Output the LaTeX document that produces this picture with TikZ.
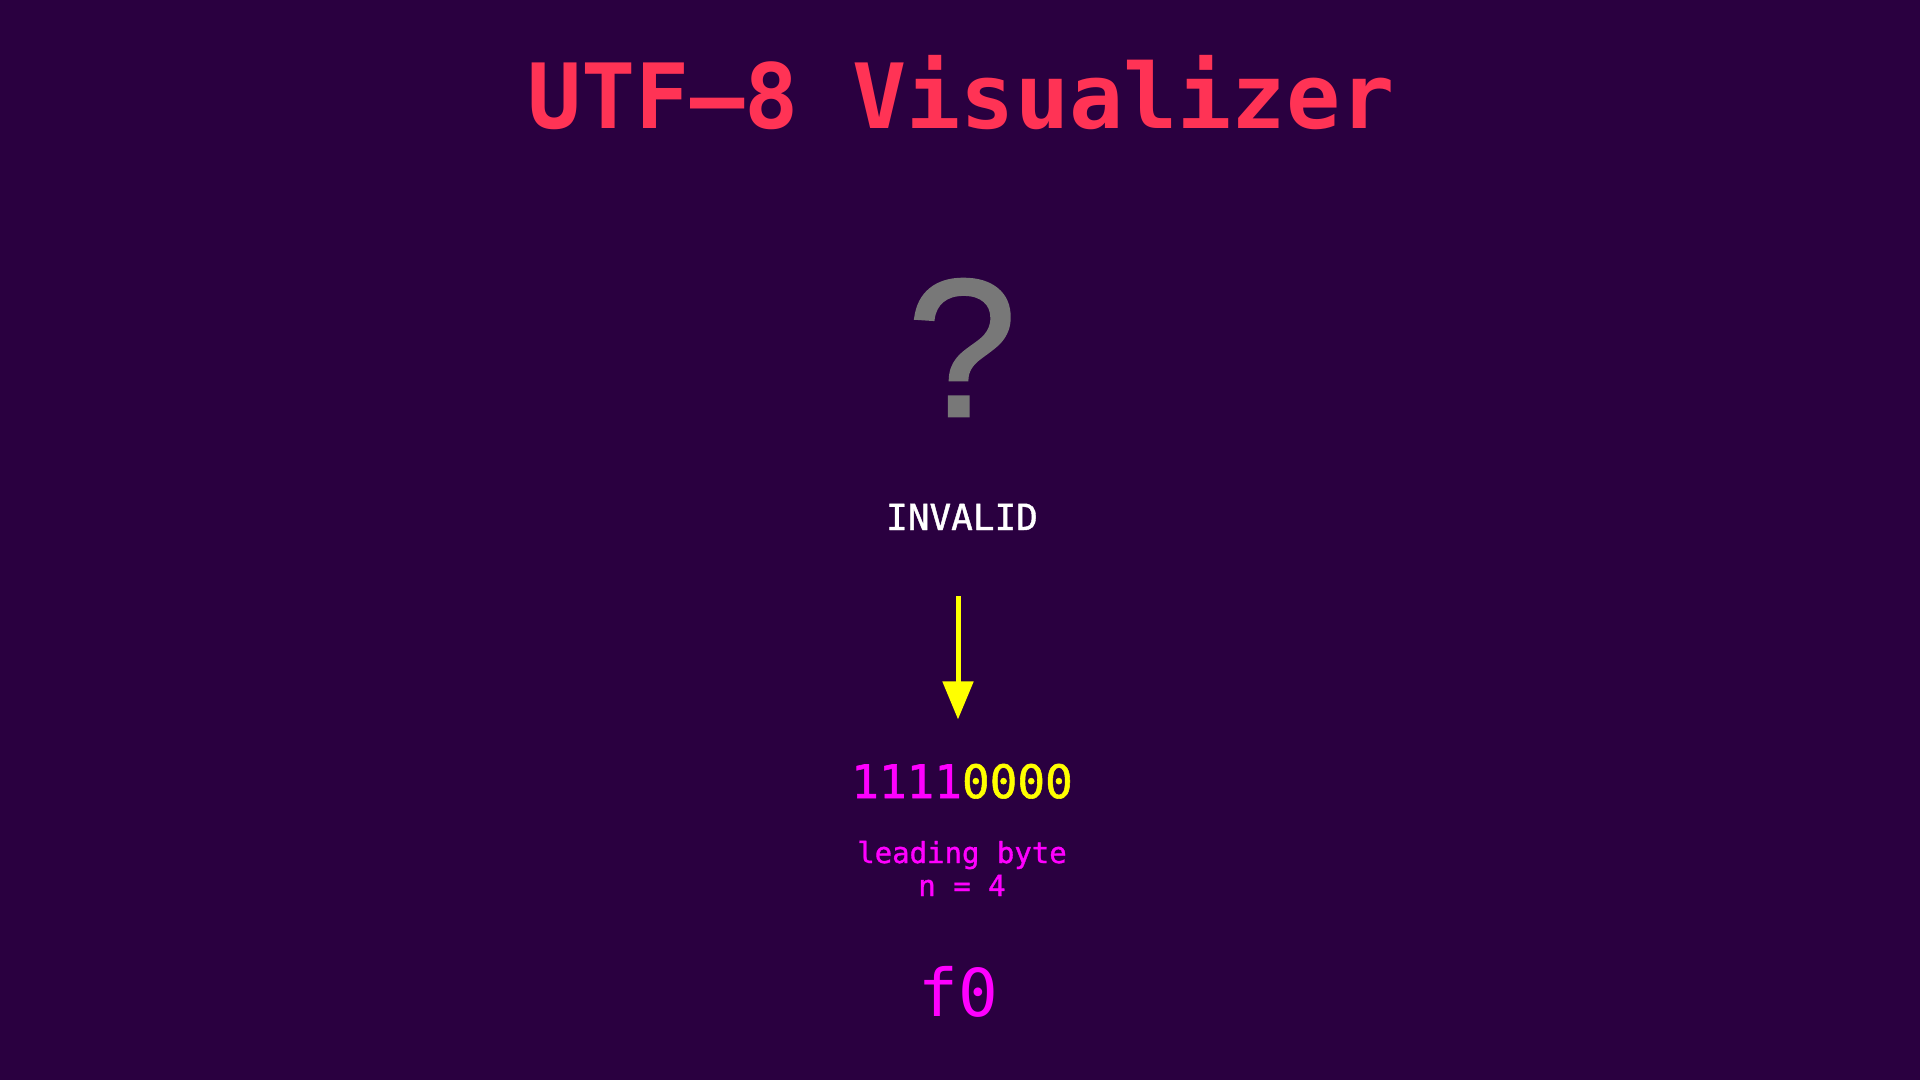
\documentclass[tikz,border=0pt]{standalone}
\usepackage{fontspec}
\setmonofont{DejaVu Sans Mono}
\newfontfamily\monomedium{DejaVu Sans Mono}[FakeBold=1.2]
\newfontfamily\qmarkfont{Liberation Sans}[FakeBold=1.5]
\usepackage{xcolor}
\usetikzlibrary{arrows.meta, positioning}

\definecolor{bgpurple}{RGB}{42,0,64}
\definecolor{titlered}{RGB}{255,51,85}
\definecolor{qgray}{RGB}{120,120,120}
\definecolor{bitmagenta}{RGB}{255,0,255}
\definecolor{bityellow}{RGB}{255,255,0}

\begin{document}
\begin{tikzpicture}[
    x = 0.5pt, y = -0.5pt,
    lbl/.style  = {inner sep=0pt, anchor=base},
    arr/.style  = {-{Triangle[length=19pt, width=15pt]}, line width=2.5pt,
                   draw=bityellow, fill=bityellow}
  ]
  % background and picture size
  \fill[bgpurple] (0,0) rectangle (1920,1080);

  \node[lbl, text=titlered, font=\fontsize{45}{54}\selectfont\ttfamily\bfseries]
    (title) at (961,129) {UTF–8 Visualizer};
  \node[lbl, text=qgray, font=\fontsize{98}{110}\selectfont\qmarkfont]
    (glyph) at (962,416) {?};
  \node[lbl, text=white, font=\fontsize{18}{22}\selectfont\monomedium]
    (status) at (962,530) {INVALID};
  \node[lbl, font=\fontsize{23}{28}\selectfont\monomedium]
    (bits) at (962,798) {\textcolor{bitmagenta}{1111}\textcolor{bityellow}{0000}};
  \node[lbl, text=bitmagenta, font=\fontsize{14.5}{16.5}\selectfont\monomedium]
    (role) at (962,863) {leading byte};
  \node[lbl, text=bitmagenta, font=\fontsize{14.5}{16.5}\selectfont\monomedium]
    (count) at (962,896) {n = 4};
  \node[lbl, text=bitmagenta, font=\fontsize{33}{40}\selectfont\ttfamily]
    (hex) at (958,1016) {f0};

  \draw[arr, shorten <=33pt, shorten >=22pt]
    ([xshift=-2pt]status.south) -- ([xshift=-2pt]bits.north);
\end{tikzpicture}
\end{document}
